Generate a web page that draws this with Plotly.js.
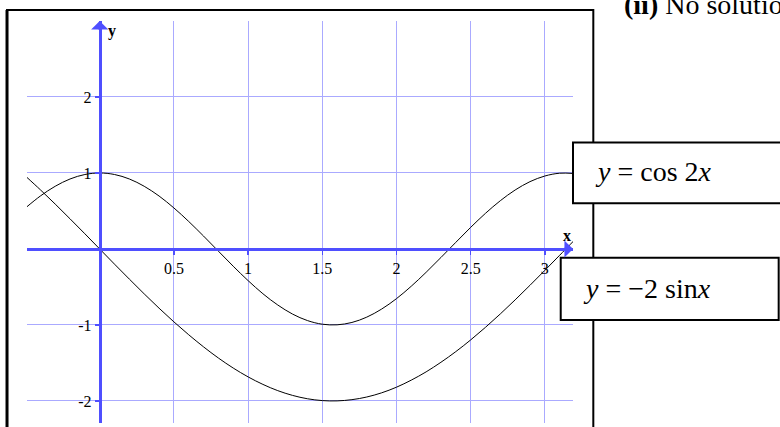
<!DOCTYPE html>
<html>
<head>
<meta charset="utf-8">
<script src="https://cdn.plot.ly/plotly-3.0.1.min.js"></script>
<style>
  html, body { margin: 0; padding: 0; overflow: hidden; background: #fff; }
  #chart { width: 780px; height: 427px; }
</style>
</head>
<body>
<div id="chart"></div>
<script>
// Sample points
const xs = [-0.5,-0.4,-0.3,-0.2,-0.1,0,0.1,0.2,0.3,0.4,0.5,0.6,0.7,0.8,0.9,1.0,1.1,1.2,1.3,1.4,1.5,1.6,1.7,1.8,1.9,2.0,2.1,2.2,2.3,2.4,2.5,2.6,2.7,2.8,2.9,3.0,3.1,3.2];
const cos2x = [0.540,0.697,0.825,0.921,0.980,1.000,0.980,0.921,0.825,0.697,0.540,0.362,0.170,-0.029,-0.227,-0.416,-0.589,-0.737,-0.857,-0.942,-0.990,-0.998,-0.967,-0.897,-0.791,-0.654,-0.490,-0.307,-0.112,0.087,0.284,0.469,0.635,0.776,0.886,0.960,0.997,0.993];
const minus2sinx = [0.959,0.779,0.591,0.397,0.200,0.000,-0.200,-0.397,-0.591,-0.779,-0.959,-1.129,-1.288,-1.435,-1.567,-1.683,-1.782,-1.864,-1.927,-1.971,-1.995,-1.999,-1.983,-1.948,-1.893,-1.819,-1.726,-1.617,-1.491,-1.351,-1.197,-1.031,-0.855,-0.670,-0.478,-0.282,-0.083,0.117];

const xTickVals = [0.5, 1, 1.5, 2, 2.5, 3];
const xTickText = ["0.5", "1", "1.5", "2", "2.5", "3"];
const yTickVals = [-2, -1, 1, 2];
const yTickText = ["-2", "-1", "1", "2"];

const labelCos = "<i>y</i> = cos 2<i>x</i>";
const labelSin = "<i>y</i> = \u22122 sin<i>x</i>";
const headerText = "<b>(ii)</b> No solution";

const serif = "Liberation Serif, Times New Roman, serif";
const axisBlue = "#4f4fff";
const gridBlue = "#aaaaff";

const traces = [
  { x: xs, y: cos2x, type: "scatter", mode: "lines", line: { color: "#000", width: 1, shape: "spline" }, hoverinfo: "skip" },
  { x: xs, y: minus2sinx, type: "scatter", mode: "lines", line: { color: "#000", width: 1, shape: "spline" }, hoverinfo: "skip" }
];

const layout = {
  width: 780, height: 427, autosize: false,
  margin: { l: 27, r: 207, t: 21, b: 4, pad: 0 },
  paper_bgcolor: "#fff", plot_bgcolor: "#fff",
  showlegend: false,
  font: { family: serif, color: "#000" },
  xaxis: {
    range: [-0.49, 3.19], anchor: "free", position: 0.4329,
    showline: true, linecolor: axisBlue, linewidth: 3,
    ticks: "outside", ticklen: 4, tickwidth: 1.5, tickcolor: axisBlue,
    tickvals: xTickVals, ticktext: xTickText,
    tickfont: { family: serif, size: 16, color: "#000" },
    showgrid: true, gridcolor: gridBlue, gridwidth: 1,
    zeroline: false, fixedrange: true
  },
  yaxis: {
    range: [-2.29, 3.0], anchor: "free", position: 0.1332,
    showline: true, linecolor: axisBlue, linewidth: 3,
    ticks: "outside", ticklen: 4, tickwidth: 1.5, tickcolor: axisBlue,
    tickvals: yTickVals, ticktext: yTickText,
    tickfont: { family: serif, size: 16, color: "#000" },
    showgrid: true, gridcolor: gridBlue, gridwidth: 1,
    zeroline: false, fixedrange: true
  },
  shapes: [
    { type: "rect", xref: "paper", yref: "paper", x0: -0.0366, x1: 1.0372, y0: -0.2, y1: 1.0274,
      line: { color: "#000", width: 2 }, fillcolor: "rgba(0,0,0,0)", layer: "above" },
    { type: "line", xref: "paper", yref: "paper", x0: -0.0366, x1: -0.0366, y0: -0.2, y1: 1.0274,
      line: { color: "#000", width: 3 }, layer: "above" },
    { type: "rect", xref: "paper", yref: "paper", x0: 1.0, x1: 1.385, y0: 0.5465, y1: 0.698,
      line: { color: "#000", width: 2 }, fillcolor: "#fff", layer: "above" },
    { type: "rect", xref: "paper", yref: "paper", x0: 0.9775, x1: 1.3767, y0: 0.2562, y1: 0.4112,
      line: { color: "#000", width: 2 }, fillcolor: "#fff", layer: "above" }
  ],
  annotations: [
    { xref: "x", yref: "y", x: 0, y: 3.0, ax: 0, ay: 10, text: "", showarrow: true,
      arrowhead: 1, arrowsize: 0.95, arrowwidth: 3, arrowcolor: axisBlue, standoff: 0 },
    { xref: "x", yref: "y", x: 3.19, y: 0, ax: -10, ay: 0, text: "", showarrow: true,
      arrowhead: 1, arrowsize: 0.95, arrowwidth: 3, arrowcolor: axisBlue, standoff: 0 },
    { xref: "x", yref: "y", x: 0.082, y: 2.87, text: "<b>y</b>", showarrow: false,
      font: { family: serif, size: 16, color: "#000" } },
    { xref: "x", yref: "y", x: 3.148, y: 0.18, text: "<b>x</b>", showarrow: false,
      font: { family: serif, size: 16, color: "#000" } },
    { xref: "paper", yref: "paper", x: 1.0366, y: 0.6246, xanchor: "left", yanchor: "middle",
      text: labelCos, showarrow: false, font: { family: serif, size: 28, color: "#000" } },
    { xref: "paper", yref: "paper", x: 1.0141, y: 0.3346, xanchor: "left", yanchor: "middle",
      text: labelSin, showarrow: false, font: { family: serif, size: 28, color: "#000" } },
    { xref: "paper", yref: "paper", x: 1.0892, y: 1.0418, xanchor: "left", yanchor: "middle",
      text: headerText, showarrow: false, font: { family: serif, size: 28, color: "#000" } }
  ]
};

Plotly.newPlot("chart", traces, layout, { staticPlot: true, displayModeBar: false });
</script>
</body>
</html>
